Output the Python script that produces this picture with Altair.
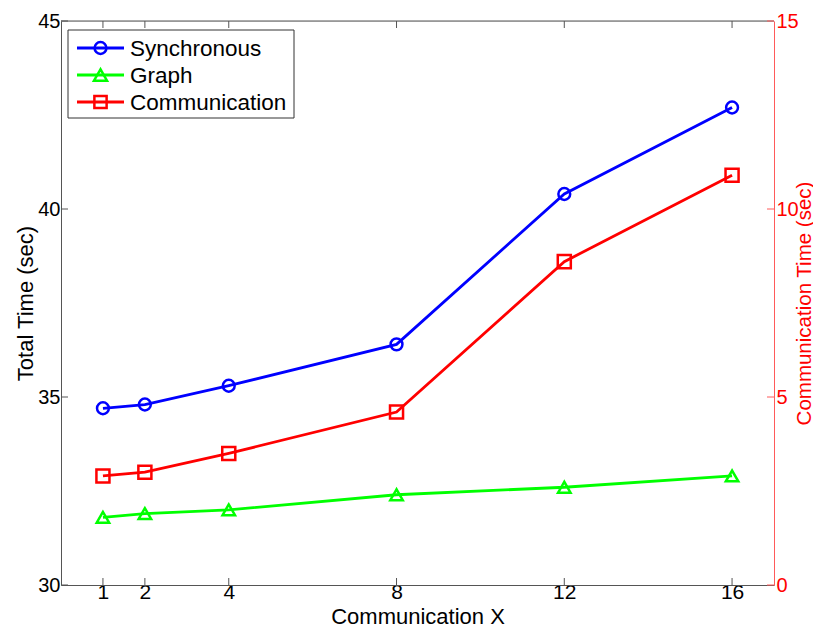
import altair as alt
import pandas as pd

# ---- data ----
comm_x = [1, 2, 4, 8, 12, 16]
synchronous = [34.7, 34.8, 35.3, 36.4, 40.4, 42.7]
graph = [31.8, 31.9, 32.0, 32.4, 32.6, 32.9]
communication = [2.9, 3.0, 3.5, 4.6, 8.6, 10.9]

series_names = ["Synchronous", "Graph", "Communication"]
series_colors = ["#0000FF", "#00FF00", "#FF0000"]
series_shapes = ["circle", "triangle-up", "square"]
series_sizes = [140, 170, 150]

x_ticks = [1, 2, 4, 8, 12, 16]
left_ticks = [30, 35, 40, 45]
right_ticks = [0, 5, 10, 15]

W, H = 713, 564
FONT = "Liberation Sans"
AX = "#555555"
RED_AX = "#ff5a5a"

left_df = pd.DataFrame({
    "x": comm_x * 2,
    "value": synchronous + graph,
    "series": ["Synchronous"] * len(comm_x) + ["Graph"] * len(comm_x),
})
right_df = pd.DataFrame({"x": comm_x, "value": communication,
                         "series": ["Communication"] * len(comm_x)})

xscale = alt.Scale(domain=[0, 17], nice=False, zero=False)
xaxis = alt.Axis(values=x_ticks, ticks=False, grid=False, labelFontSize=21,
                 titleFontSize=22, domainColor=AX, labelColor="black",
                 labelPadding=-4, title="Communication X",
                 titleFontWeight="normal", titleBaseline="alphabetic",
                 titleY=38, labelFlush=False)
lscale = alt.Scale(domain=[30, 45], nice=False, zero=False)
laxis = alt.Axis(orient="left", values=left_ticks, ticks=False, grid=False,
                 labelFontSize=20, titleFontSize=22, domainColor=AX,
                 labelColor="black", labelPadding=1,
                 title="Total Time (sec)", titleFontWeight="normal",
                 titleBaseline="middle", titleX=-36, titleY=H / 2,
                 labelFlush=False)
rscale = alt.Scale(domain=[0, 15], nice=False, zero=False)
raxis = alt.Axis(orient="right", values=right_ticks, ticks=False, grid=False,
                 labelFontSize=20, titleFontSize=20.5, domainColor=RED_AX,
                 labelColor="#FF0000", titleColor="#FF0000", labelPadding=2,
                 title="Communication Time (sec)", titleFontWeight="normal",
                 titleAngle=270, titleBaseline="middle", titleX=30,
                 titleY=H / 2, labelFlush=False)

color_scale = alt.Scale(domain=series_names, range=series_colors)
shape_scale = alt.Scale(domain=series_names, range=series_shapes)
size_scale = alt.Scale(domain=series_names, range=series_sizes)

MSTROKE = 2.5
LW = 2.8

# ---- left axis layer ----
lbase = alt.Chart(left_df).encode(
    x=alt.X("x:Q", scale=xscale, axis=xaxis),
    y=alt.Y("value:Q", scale=lscale, axis=laxis),
    color=alt.Color("series:N", scale=color_scale, legend=None),
)
lline = lbase.mark_line(strokeWidth=LW)
lpts = lbase.mark_point(filled=False, strokeWidth=MSTROKE, opacity=1).encode(
    shape=alt.Shape("series:N", scale=shape_scale, legend=None),
    size=alt.Size("series:N", scale=size_scale, legend=None))

lt_df = pd.DataFrame({"t": left_ticks})
lticks = alt.Chart(lt_df).mark_rule(color=AX, strokeWidth=1).encode(
    y=alt.Y("t:Q", scale=lscale, axis=laxis),
    x=alt.value(0), x2=alt.value(7))

xt_df = pd.DataFrame({"t": x_ticks})
xticks_bottom = alt.Chart(xt_df).mark_rule(color=AX, strokeWidth=1).encode(
    x=alt.X("t:Q", scale=xscale, axis=xaxis),
    y=alt.value(H - 7), y2=alt.value(H))
xticks_top = alt.Chart(xt_df).mark_rule(color=AX, strokeWidth=1).encode(
    x=alt.X("t:Q", scale=xscale, axis=xaxis),
    y=alt.value(0), y2=alt.value(7))

one = pd.DataFrame({"a": [0]})
top_border = alt.Chart(one).mark_rule(color=AX, strokeWidth=1).encode(
    x=alt.value(0), x2=alt.value(W), y=alt.value(0))

left_layer = alt.layer(lline, lpts, lticks, xticks_bottom, xticks_top, top_border)

# ---- right axis layer ----
rbase = alt.Chart(right_df).encode(
    x=alt.X("x:Q", scale=xscale, axis=xaxis),
    y=alt.Y("value:Q", scale=rscale, axis=raxis),
    color=alt.Color("series:N", scale=color_scale, legend=None),
)
rline = rbase.mark_line(strokeWidth=LW)
rpts = rbase.mark_point(filled=False, strokeWidth=MSTROKE, opacity=1).encode(
    shape=alt.Shape("series:N", scale=shape_scale, legend=None),
    size=alt.Size("series:N", scale=size_scale, legend=None))
rt_df = pd.DataFrame({"t": right_ticks})
rticks = alt.Chart(rt_df).mark_rule(color=RED_AX, strokeWidth=1).encode(
    y=alt.Y("t:Q", scale=rscale, axis=raxis),
    x=alt.value(W - 7), x2=alt.value(W))
right_layer = alt.layer(rline, rpts, rticks)

# ---- legend (decoration) ----
leg_parts = [
    alt.Chart(one).mark_rect(fill="white", stroke="#333333", strokeWidth=1).encode(
        x=alt.value(7), x2=alt.value(233), y=alt.value(9), y2=alt.value(97))
]
for i, (name, col, shp, sz) in enumerate(zip(series_names, series_colors,
                                             series_shapes, series_sizes)):
    yy = 27 + 27 * i
    d = pd.DataFrame({"name": [name]})
    leg_parts.append(alt.Chart(d).mark_rule(color=col, strokeWidth=LW).encode(
        x=alt.value(16), x2=alt.value(63), y=alt.value(yy)))
    leg_parts.append(alt.Chart(d).mark_point(
        filled=False, size=sz, strokeWidth=MSTROKE, color=col, shape=shp,
        opacity=1).encode(x=alt.value(39.5), y=alt.value(yy)))
    leg_parts.append(alt.Chart(d).mark_text(
        align="left", baseline="middle", fontSize=22.5, font=FONT,
        color="black").encode(x=alt.value(69), y=alt.value(yy + 1),
                              text="name:N"))
legend_layer = alt.layer(*leg_parts)

chart = alt.layer(left_layer, right_layer, legend_layer).resolve_scale(
    y="independent"
).properties(
    width=W, height=H,
    autosize=alt.AutoSizeParams(type="none"),
    padding={"left": 53, "top": 13, "right": 39, "bottom": 43},
).configure_view(stroke=None).configure_axis(
    labelFont=FONT, titleFont=FONT
).configure(background="white")

chart.save("out.html", embed_options={"renderer": "svg", "actions": False})
